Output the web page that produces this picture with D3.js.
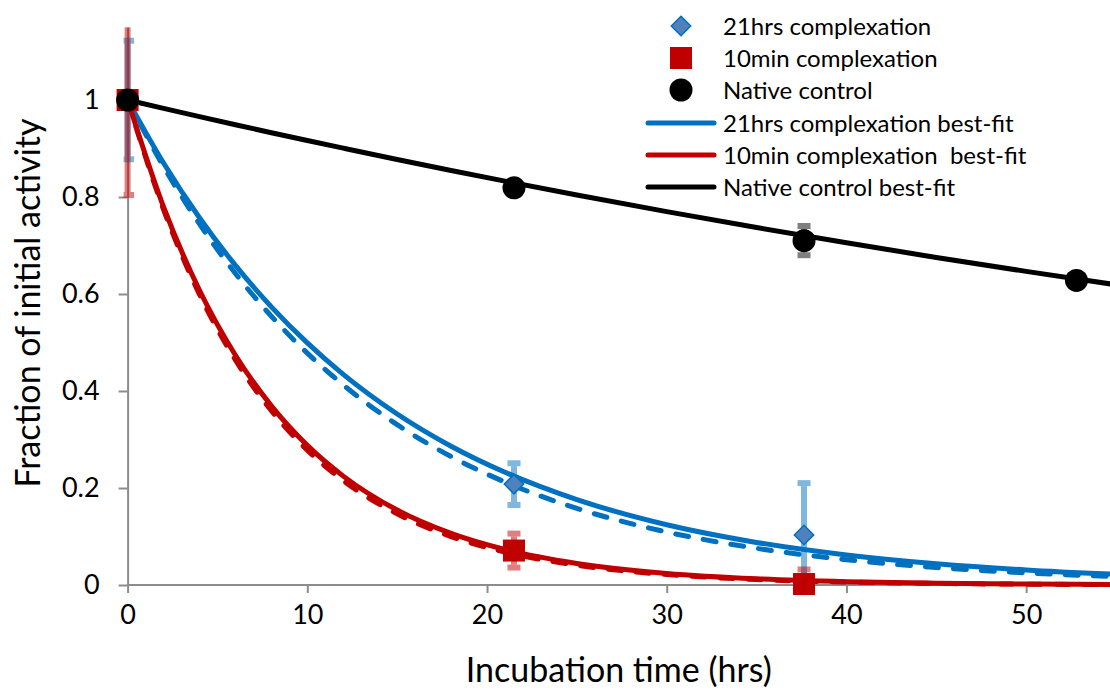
<!DOCTYPE html>
<html><head><meta charset="utf-8">
<script src="https://cdn.jsdelivr.net/npm/d3@7"></script>
<style>
body{margin:0;background:#fff}
svg{display:block}
text{font-family:Lato,'Open Sans',sans-serif;fill:#000}
</style>
</head><body><svg id="c" width="1110" height="691"></svg>
<script>
// ---- data ----
const xTicks = [0, 10, 20, 30, 40, 50];
const yTicks = [0, 0.2, 0.4, 0.6, 0.8, 1];
const yTickLabels = ["0", "0.2", "0.4", "0.6", "0.8", "1"];

const nativeT = [0, 21.5, 37.64, 52.8];
const nativeV = [1, 0.819, 0.71, 0.628];
const nativeErr = [0, 0.01, 0.03, 0];

const c21T = [0, 21.5, 37.64];
const c21V = [1, 0.208, 0.103];
const c21Err = [0.122, 0.043, 0.107];

const c10T = [0, 21.5, 37.64];
const c10V = [1, 0.071, 0.002];
const c10Err = [0.196, 0.035, 0.03];

const fitT        = [0, 2, 4, 6, 8, 10, 12, 15, 18, 21, 25, 30, 35, 40, 45, 50, 55];
const fitNative   = [1, 0.9827, 0.9657, 0.9490, 0.9326, 0.9165, 0.9007, 0.8773, 0.8547, 0.8327, 0.8041, 0.7698, 0.7370, 0.7055, 0.6754, 0.6466, 0.6190];
const fit21       = [1, 0.8702, 0.7573, 0.6590, 0.5735, 0.4991, 0.4343, 0.3526, 0.2862, 0.2324, 0.1760, 0.1243, 0.0878, 0.0620, 0.0438, 0.0310, 0.0219];
const fit21Dash   = [1, 0.8628, 0.7444, 0.6422, 0.5541, 0.4781, 0.4125, 0.3306, 0.2649, 0.2123, 0.1580, 0.1093, 0.0756, 0.0522, 0.0361, 0.0250, 0.0173];
const fit10       = [1, 0.7796, 0.6077, 0.4738, 0.3694, 0.2879, 0.2245, 0.1545, 0.1064, 0.0732, 0.0445, 0.0239, 0.0128, 0.0069, 0.0037, 0.0020, 0.0011];
const fit10Dash   = [1, 0.7741, 0.5993, 0.4639, 0.3592, 0.2780, 0.2153, 0.1466, 0.0999, 0.0680, 0.0408, 0.0215, 0.0113, 0.0060, 0.0032, 0.0017, 0.0009];

const legendLabels = ["21hrs complexation", "10min complexation", "Native control",
  "21hrs complexation best-fit", "10min complexation  best-fit", "Native control best-fit"];

// ---- colours ----
const BLUE = "#0070C0", RED = "#C00000", BLACK = "#000000";

// ---- layout ----
const svg = d3.select("#c");
const x = d3.scaleLinear().domain([0, 55]).range([127.6, 1116]);
const y = d3.scaleLinear().domain([0, 1.15]).range([585, 27.25]);

svg.append("defs").append("clipPath").attr("id", "plot")
  .append("rect").attr("x", x(0) - 4).attr("y", y(1.15)).attr("width", 1110 - x(0) + 4).attr("height", y(0) - y(1.15) + 6);

// axes
const xAxis = svg.append("g").attr("transform", `translate(0,${y(0)})`)
  .call(d3.axisBottom(x).tickValues(xTicks).tickFormat(d3.format("d")).tickSizeInner(8).tickSizeOuter(0).tickPadding(12));
xAxis.select(".domain").attr("stroke", "#8c8c8c").attr("stroke-width", 2).attr("d", `M${x(0)},0H1110`);
xAxis.selectAll(".tick line").attr("stroke", "#8c8c8c").attr("stroke-width", 2);
xAxis.selectAll(".tick text").style("font-size", "27px").style("font-family", "Lato");

const yAxis = svg.append("g").attr("transform", `translate(${x(0)},0)`)
  .call(d3.axisLeft(y).tickValues(yTicks).tickFormat((d, i) => yTickLabels[i]).tickSizeInner(9).tickSizeOuter(0).tickPadding(19));
yAxis.select(".domain").attr("stroke", "#8c8c8c").attr("stroke-width", 2);
yAxis.selectAll(".tick line").attr("stroke", "#8c8c8c").attr("stroke-width", 2);
yAxis.selectAll(".tick text").style("font-size", "27px").style("font-family", "Lato");

// titles
svg.append("text").attr("x", (x(0) + 1110) / 2).attr("y", 682).attr("text-anchor", "middle")
  .style("font-size", "34px").text("Incubation time (hrs)");
svg.append("text").attr("transform", "translate(40,303) rotate(-90)").attr("text-anchor", "middle")
  .style("font-size", "34px").text("Fraction of initial activity");

// fit lines
const plot = svg.append("g").attr("clip-path", "url(#plot)");
const line = vals => d3.line().x((d, i) => x(fitT[i])).y(d => y(d)).curve(d3.curveMonotoneX)(vals);
const fits = [
  {v: fit21Dash, c: BLUE, dash: "13,15"},
  {v: fit10Dash, c: RED, dash: "13,15"},
  {v: fit21, c: BLUE},
  {v: fit10, c: RED},
  {v: fitNative, c: BLACK}
];
fits.forEach(f => {
  plot.append("path").attr("d", line(f.v)).attr("fill", "none").attr("stroke", f.c)
    .attr("stroke-width", 5).attr("stroke-linecap", f.dash ? "round" : "butt")
    .attr("stroke-dasharray", f.dash || null);
});

// error bars
function errBars(T, V, E, color) {
  const g = plot.append("g").attr("stroke", color).attr("stroke-opacity", 0.5).attr("stroke-width", 6);
  T.forEach((t, i) => {
    if (!E[i]) return;
    const cx = x(t), y1 = y(V[i] + E[i]), y2 = y(V[i] - E[i]);
    g.append("line").attr("x1", cx).attr("x2", cx).attr("y1", y1 + 3).attr("y2", y2 - 3);
    g.append("line").attr("x1", cx - 6.5).attr("x2", cx + 6.5).attr("y1", y1).attr("y2", y1);
    g.append("line").attr("x1", cx - 6.5).attr("x2", cx + 6.5).attr("y1", y2).attr("y2", y2);
  });
}
errBars(c21T, c21V, c21Err, BLUE);
errBars(c10T, c10V, c10Err, RED);
errBars(nativeT, nativeV, nativeErr, BLACK);

// markers
const diamond = d3.symbol().type(d3.symbolDiamond2).size(240);
const mk = svg.append("g");
c21T.forEach((t, i) => mk.append("path").attr("d", diamond()).attr("transform", `translate(${x(t)},${y(c21V[i])})`)
  .attr("fill", "#4F81BD").attr("stroke", BLUE).attr("stroke-width", 1.5));
c10T.forEach((t, i) => mk.append("rect").attr("x", x(t) - 11).attr("y", y(c10V[i]) - 11)
  .attr("width", 22).attr("height", 22).attr("fill", RED));
nativeT.forEach((t, i) => mk.append("circle").attr("cx", x(t)).attr("cy", y(nativeV[i])).attr("r", 11.5).attr("fill", BLACK));

// legend
const legY = [26, 58, 90, 123, 155, 187];
const lg = svg.append("g");
lg.append("path").attr("d", diamond()).attr("transform", `translate(681,${legY[0]})`).attr("fill", "#4F81BD").attr("stroke", BLUE).attr("stroke-width", 1.5);
lg.append("rect").attr("x", 670).attr("y", legY[1] - 11).attr("width", 22).attr("height", 22).attr("fill", RED);
lg.append("circle").attr("cx", 681).attr("cy", legY[2]).attr("r", 11.5).attr("fill", BLACK);
[BLUE, RED, BLACK].forEach((c, i) => lg.append("line").attr("x1", 648).attr("x2", 714)
  .attr("y1", legY[3 + i]).attr("y2", legY[3 + i]).attr("stroke", c).attr("stroke-width", 5).attr("stroke-linecap", "round"));
legendLabels.forEach((l, i) => lg.append("text").attr("x", 723).attr("y", legY[i]).attr("dy", "0.36em")
  .style("font-size", "24px").style("white-space", "pre").attr("xml:space", "preserve").text(l));
</script>
</body></html>
